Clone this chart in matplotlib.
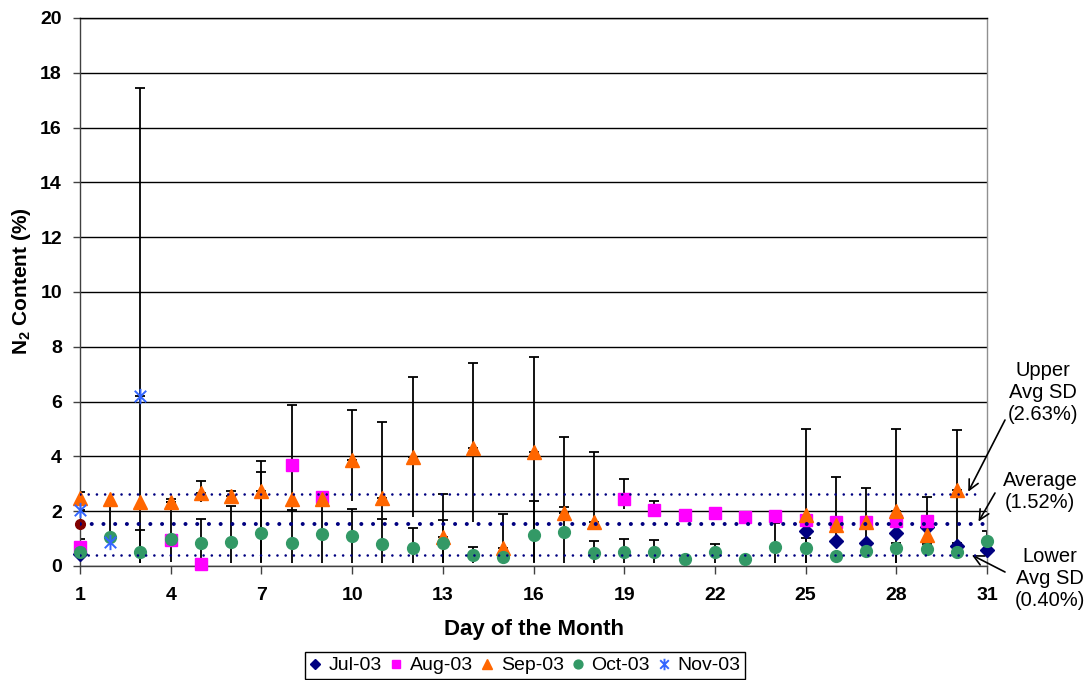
import numpy as np
import matplotlib.pyplot as plt
from matplotlib.path import Path

plt.rcParams['font.family'] = 'Liberation Sans'
plt.rcParams['mathtext.fontset'] = 'custom'
plt.rcParams['mathtext.rm'] = 'Liberation Sans'
plt.rcParams['mathtext.bf'] = 'Liberation Sans:bold'

nan = np.nan

# N2 readings per month (day, value, upper error, lower error)
jul_days = [1, 25, 26, 27, 28, 29, 30, 31]
jul_vals = [0.42, 1.29, 0.91, 0.83, 1.20, 1.43, 0.74, 0.58]
jul_hi = [nan, nan, nan, nan, nan, nan, 0.09, nan]
jul_lo = [nan, nan, nan, nan, nan, nan, nan, nan]

aug_days = [1, 4, 5, 8, 9, 19, 20, 21, 22, 23, 24, 25, 26, 27, 28, 29]
aug_vals = [0.70, 0.95, 0.07, 3.69, 2.51, 2.45, 2.06, 1.86, 1.92, 1.78,
            1.82, 1.68, 1.62, 1.62, 1.65, 1.65]
aug_hi = [nan, 1.40, nan, 2.19, nan, 0.72, 0.31, nan, 0.21, nan,
          nan, nan, nan, nan, nan, 0.86]
aug_lo = [nan, 0.80, nan, 1.30, nan, 0.38, 0.20, nan, nan, nan,
          nan, nan, nan, nan, nan, nan]

sep_days = list(range(1, 19)) + [25, 26, 27, 28, 29, 30]
sep_vals = [2.47, 2.43, 2.35, 2.35, 2.68, 2.55, 2.74, 2.43, 2.46, 3.87,
            2.47, 3.97, 1.07, 4.29, 0.65, 4.15, 1.92, 1.61,
            1.86, 1.50, 1.62, 2.02, 1.13, 2.77]
sep_hi = [nan, nan, nan, 0.10, 0.43, 0.19, 1.10, nan, nan, 1.82,
          2.80, 2.94, 1.55, 3.13, 1.24, 3.49, 2.80, 2.55,
          3.13, 1.76, 1.24, 2.99, nan, 2.21]
sep_lo = [nan, 1.35, nan, nan, 0.33, nan, 2.60, 0.40, nan, 1.50,
          0.73, 2.17, 0.95, 2.67, 0.50, 4.00, 0.30, 0.20,
          1.74, 0.60, 0.60, 1.90, nan, 1.95]

oct_days = list(range(1, 32))
oct_vals = [0.50, 1.05, 0.50, 0.97, 0.83, 0.86, 1.19, 0.85, 1.16, 1.11,
            0.80, 0.67, 0.83, 0.40, 0.34, 1.13, 1.23, 0.46, 0.50, 0.51,
            0.24, 0.50, 0.25, 0.70, 0.65, 0.38, 0.56, 0.65, 0.61, 0.52, 0.91]
oct_hi = [0.50, nan, 0.80, nan, 0.88, 1.34, 2.23, 1.20, 1.25, 0.96,
          0.93, 0.72, 0.85, 0.28, nan, 1.25, 0.93, 0.45, 0.47, 0.44,
          nan, 0.30, nan, 0.86, 0.38, nan, nan, 0.20, 0.18, nan, 0.38]
oct_lo = [0.38, nan, 0.38, nan, 0.71, 0.74, 1.07, 0.73, 1.04, 0.99,
          0.68, 0.55, 0.71, 0.28, nan, 1.01, 1.11, 0.34, 0.38, 0.39,
          nan, 0.38, nan, 0.58, 0.53, nan, nan, 0.53, nan, nan, nan]

nov_days = [1, 2, 3]
nov_vals = [2.04, 0.89, 6.20]
nov_hi = [0.66, nan, 11.25]
nov_lo = [1.92, nan, 6.08]

avg_n2 = 1.52
upper_sd = 2.63
lower_sd = 0.40

# asterisk marker: vertical stroke plus two diagonals
star = Path([(0, -1), (0, 1), (-0.75, -0.75), (0.75, 0.75), (-0.75, 0.75), (0.75, -0.75)],
            [Path.MOVETO, Path.LINETO, Path.MOVETO, Path.LINETO, Path.MOVETO, Path.LINETO])

series = [
    ('Jul-03', jul_days, jul_vals, jul_hi, jul_lo, dict(marker='D', color='#000080', ms=7)),
    ('Aug-03', aug_days, aug_vals, aug_hi, aug_lo, dict(marker='s', color='#FF00FF', ms=8)),
    ('Sep-03', sep_days, sep_vals, sep_hi, sep_lo, dict(marker='^', color='#FF6600', ms=9.5)),
    ('Oct-03', oct_days, oct_vals, oct_hi, oct_lo, dict(marker='o', color='#339966', ms=8.5)),
    ('Nov-03', nov_days, nov_vals, nov_hi, nov_lo, dict(marker=star, color='#3366FF', ms=11,
                                                        mfc='none', mew=1.4)),
]

fig = plt.figure(figsize=(10.86, 6.8), dpi=100)
ax = fig.add_axes([80 / 1086, 1 - 566 / 680, 907 / 1086, 548 / 680])

for label, days, vals, hi, lo, style in series:
    d = np.array(days, dtype=float)
    v = np.array(vals)
    h = np.array(hi)
    l = np.array(lo)
    m = ~np.isnan(h)
    if m.any():
        ax.errorbar(d[m], v[m], yerr=[np.zeros(m.sum()), h[m]], fmt='none', ecolor='k',
                    elinewidth=1.3, capsize=3.3, capthick=1.3, zorder=2)
    m = ~np.isnan(l)
    if m.any():
        ax.vlines(d[m], v[m] - l[m], v[m], color='k', lw=1.3, zorder=2)
    kw = dict(style)
    kw.setdefault('mec', kw['color'])
    ax.plot(d, v, ls='none', label=label, zorder=3, clip_on=False, **kw)

ax.plot([1], [avg_n2], 'o', color='#800000', ms=7, zorder=3, clip_on=False)

# average and SD reference lines
ax.plot([1, 30.6], [upper_sd] * 2, color='#000080', lw=1.9, ls=(0, (0.01, 3.1)),
        dash_capstyle='round', zorder=4)
ax.plot([1, 30.9], [avg_n2] * 2, color='#000080', lw=2.9, ls=(0, (0.01, 2.9)),
        dash_capstyle='round', zorder=4)
ax.plot([1, 30.7], [lower_sd] * 2, color='#000080', lw=1.9, ls=(0, (0.01, 3.1)),
        dash_capstyle='round', zorder=4)

ax.set_xlim(1, 31)
ax.set_ylim(0, 20)
ax.set_xticks(range(1, 32, 3))
ax.set_yticks(range(0, 21, 2))
ax.yaxis.grid(True, color='k', lw=1.0)
ax.set_axisbelow(True)
for lbl in ax.get_xticklabels() + ax.get_yticklabels():
    lbl.set_fontweight('bold')
ax.tick_params(axis='x', direction='out', length=6, width=1, color='#404040',
               labelsize=14, pad=9)
ax.tick_params(axis='y', direction='out', length=5, width=1, color='#404040',
               labelsize=14, pad=8)
ax.spines['left'].set_color('#404040')
ax.spines['bottom'].set_color('#404040')
ax.spines['right'].set_color('#909090')
ax.spines['top'].set_color('k')
for s in ax.spines.values():
    s.set_linewidth(1.0)

ax.set_xlabel('Day of the Month', fontsize=16, fontweight='bold', labelpad=11)
ax.set_ylabel(r'N$_\mathbf{2}$ Content (%)', fontsize=15, fontweight='bold')
ax.yaxis.set_label_coords(-0.052, 0.52)

# callouts for the reference lines
W, H = 1086, 680
callouts = [
    ('Upper\nAvg SD\n(2.63%)', (1043, 393), (1005, 420), (30.38, upper_sd + 0.08)),
    ('Average\n(1.52%)', (1040, 491), (995, 493), (30.72, avg_n2 + 0.1)),
    ('Lower\nAvg SD\n(0.40%)', (1050, 578), (1005, 572), (30.5, lower_sd)),
]
for txt, (tx, ty), (sx, sy), tip in callouts:
    fig.text(tx / W, 1 - ty / H, txt, ha='center', va='center', fontsize=14.5,
             linespacing=1.2)
    ax.annotate('', xy=tip, xycoords='data', xytext=(sx / W, 1 - sy / H),
                textcoords='figure fraction',
                arrowprops=dict(arrowstyle='->', color='k', lw=1.2, mutation_scale=18,
                                shrinkA=0, shrinkB=0),
                annotation_clip=False)

leg = fig.legend(loc='upper center', bbox_to_anchor=(525 / W, 1 - 652 / H), ncol=5,
                 fontsize=14, frameon=True, fancybox=False, edgecolor='k', framealpha=1,
                 borderpad=0.25, handlelength=0.6, handletextpad=0.4, columnspacing=0.42,
                 markerscale=0.75, borderaxespad=0)
leg.get_frame().set_linewidth(1.0)

fig.savefig('out.png', dpi=100)
